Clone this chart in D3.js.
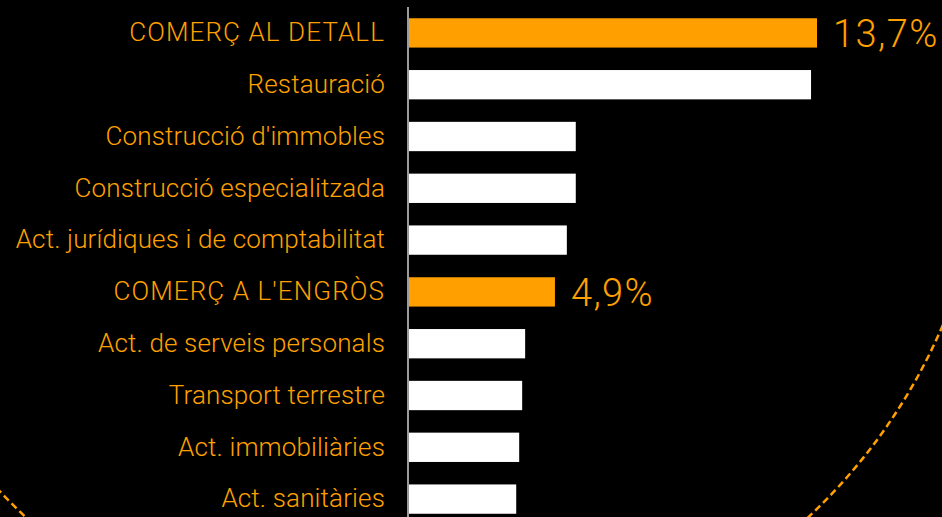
<!DOCTYPE html>
<html>
<head>
<meta charset="utf-8">
<script src="https://cdn.jsdelivr.net/npm/d3@7"></script>
<style>
  html, body { margin: 0; padding: 0; background: #000; }
  svg { display: block; }
</style>
</head>
<body>
<div id="chart"></div>
<script>
var width = 942;
var height = 517;
let background = "#000000";
let orange = "#ffa000";
let bar_color = "#ffffff";
let axis_color = "#cfcfcf";
let font = "'Helvetica Neue', Roboto, 'Liberation Sans', sans-serif";

// categories (top to bottom) and shares in %
let categories = [
  "COMERÇ AL DETALL",
  "Restauració",
  "Construcció d'immobles",
  "Construcció especialitzada",
  "Act. jurídiques i de comptabilitat",
  "COMERÇ A L'ENGRÒS",
  "Act. de serveis personals",
  "Transport terrestre",
  "Act. immobiliàries",
  "Act. sanitàries"
];
let values = [13.7, 13.5, 5.6, 5.6, 5.3, 4.9, 3.9, 3.8, 3.7, 3.6];
// highlighted rows get an orange bar and a value label
let highlight = ["COMERÇ AL DETALL", "COMERÇ A L'ENGRÒS"];
let value_labels = ["13,7%", "", "", "", "", "4,9%", "", "", "", ""];

let rows = categories.map(function(c, i) {
  return { name: c, value: values[i], label: value_labels[i], hl: highlight.indexOf(c) >= 0 };
});

var svg = d3.select("#chart").append("svg")
  .attr("width", width)
  .attr("height", height)
  .style("background", background);

//----------------------DASHED CIRCLE----------------------
svg.append("circle")
  .attr("cx", 417)
  .attr("cy", 100)
  .attr("r", 572)
  .style("fill", "none")
  .style("stroke", orange)
  .style("stroke-width", 2.5)
  .style("stroke-dasharray", "7,4");

//----------------------SCALES----------------------------
var x0 = 409;
var xscale = d3.scaleLinear()
  .domain([0, 13.7])
  .range([x0, 817]);

var yscale = d3.scaleBand()
  .domain(categories)
  .range([7, 525])
  .paddingInner(0.434)
  .paddingOuter(0.217);

//----------------------BARS----------------------------
svg.append("g").attr("id", "bars")
  .selectAll("rect")
  .data(rows)
  .join("rect")
  .attr("x", xscale(0))
  .attr("y", function(d) { return yscale(d.name); })
  .attr("width", function(d) { return xscale(d.value) - xscale(0); })
  .attr("height", yscale.bandwidth())
  .style("fill", function(d) { return d.hl ? orange : bar_color; });

// value labels on highlighted bars
svg.append("g").attr("id", "values")
  .selectAll("text")
  .data(rows.filter(function(d) { return d.label !== ""; }))
  .join("text")
  .attr("x", function(d) { return xscale(d.value) + 16; })
  .attr("y", function(d) { return yscale(d.name) + yscale.bandwidth() / 2; })
  .attr("dy", "0.36em")
  .style("fill", orange)
  .style("font-family", font)
  .style("font-weight", 300)
  .style("letter-spacing", "1.4px")
  .attr("font-size", "38")
  .text(function(d) { return d.label; });

//----------------------AXIS----------------------------
var y_axis = d3.axisLeft(yscale)
  .tickSize(0)
  .tickPadding(23);

var g_axis = svg.append("g").attr("id", "y_axis")
  .attr("transform", "translate(" + (x0 - 1) + ",0)")
  .call(y_axis);

g_axis.select(".domain")
  .attr("d", "M0," + yscale.range()[0] + "V" + height)
  .style("stroke", axis_color)
  .style("stroke-width", 1.5);

// capitals of the original face run wider, so the upper-case labels get more spacing
g_axis.selectAll("text")
  .style("fill", orange)
  .style("font-family", font)
  .style("font-weight", 300)
  .style("letter-spacing", function(d) { return highlight.indexOf(d) >= 0 ? "1.1px" : "0.15px"; })
  .attr("font-size", "26");
</script>
</body>
</html>
